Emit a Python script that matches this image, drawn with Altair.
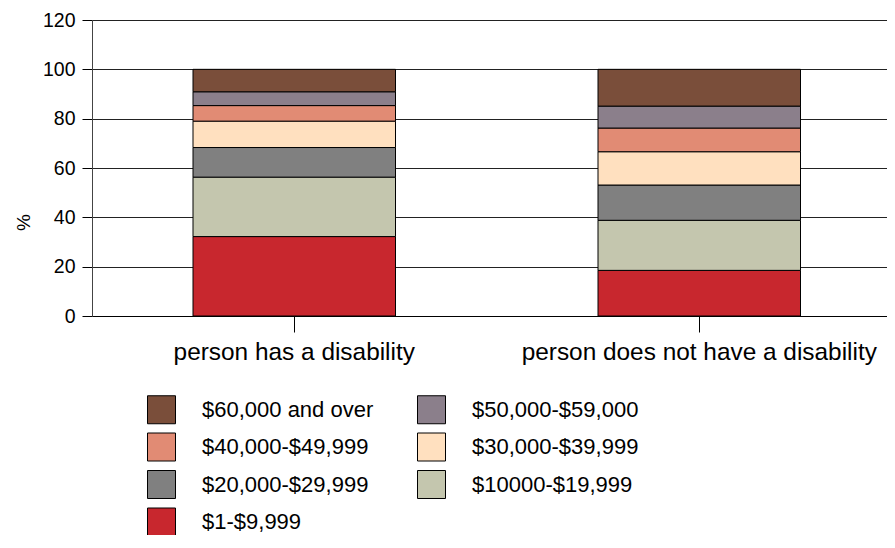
import altair as alt
import pandas as pd

groups = ["person has a disability", "person does not have a disability"]
categories = ["$1-$9,999", "$10000-$19,999", "$20,000-$29,999", "$30,000-$39,999",
              "$40,000-$49,999", "$50,000-$59,000", "$60,000 and over"]
has_disability = [32.2, 24.1, 12.0, 10.7, 6.3, 5.6, 9.1]
no_disability = [18.5, 20.3, 14.3, 13.5, 9.6, 8.9, 14.9]
colors = ["#c8272e", "#c4c6ae", "#808080", "#ffe0bf", "#e18b74", "#8b7f8b", "#7a4e3a"]
y_ticks = [0, 20, 40, 60, 80, 100, 120]

rows = []
for g, vals in zip(groups, [has_disability, no_disability]):
    for i, (c, v) in enumerate(zip(categories, vals)):
        rows.append({"group": g, "income": c, "value": v, "idx": i})
df = pd.DataFrame(rows)

FONT = "Liberation Sans"

chart = alt.Chart(df).mark_bar(stroke="black", strokeWidth=1).encode(
    x=alt.X("group:N", sort=groups, title=None,
            scale=alt.Scale(paddingInner=0.5, paddingOuter=0.2315, align=0.5387),
            axis=alt.Axis(labelAngle=0, labelFontSize=24.4, labelFont=FONT, labelColor="black",
                          labelLimit=0, tickSize=16, tickColor="black", domainColor="black",
                          labelPadding=8, grid=False)),
    y=alt.Y("value:Q", stack="zero", title="%",
            scale=alt.Scale(domain=[0, 120], nice=False),
            axis=alt.Axis(values=y_ticks, labelFontSize=19.5, labelFont=FONT, labelColor="black",
                          tickSize=10, tickColor="black", domainColor="#444",
                          labelPadding=7, gridColor="#222", gridWidth=1,
                          titleFontSize=19, titleFont=FONT, titleFontWeight="normal",
                          titleColor="black", titleAngle=270, titleX=-69, titleY=202,
                          titleAlign="center", titleBaseline="middle")),
    color=alt.Color("income:N",
                    scale=alt.Scale(domain=list(reversed(categories)), range=list(reversed(colors))),
                    legend=alt.Legend(title=None, orient="none", legendX=55, legendY=375,
                                      direction="horizontal",
                                      columns=2, symbolType="square", symbolSize=784,
                                      symbolStrokeColor="black", symbolStrokeWidth=1,
                                      symbolOpacity=1, labelFontSize=22, labelFont=FONT,
                                      labelColor="black", labelOffset=26, labelLimit=0,
                                      rowPadding=4.5, columnPadding=41, padding=0)),
    order=alt.Order("idx:Q", sort="ascending"),
).properties(
    width=795, height=296, autosize="none",
    padding={"left": 84, "top": 12, "right": 0, "bottom": 219},
).configure_view(stroke=None).configure(background="white")

chart.save("out.html", embed_options={"renderer": "svg", "actions": False})
